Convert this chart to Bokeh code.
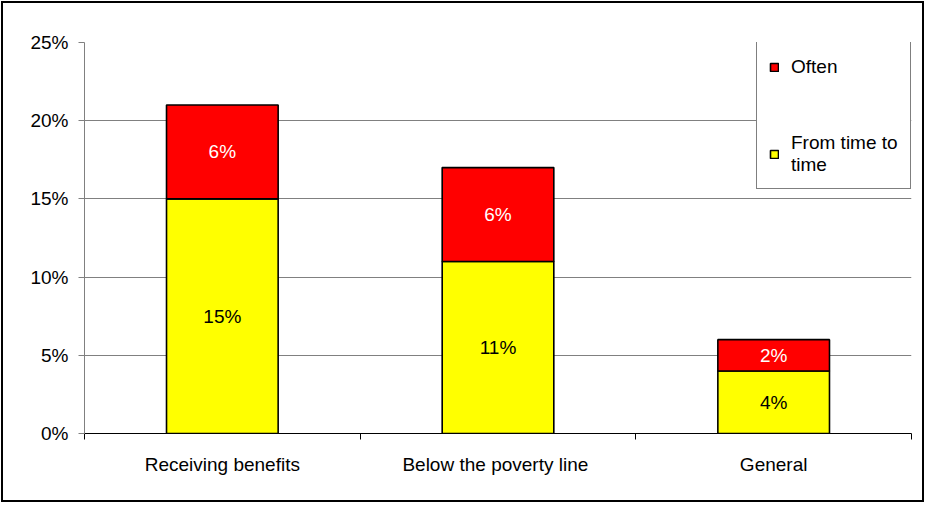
from bokeh.plotting import figure
from bokeh.models import (ColumnDataSource, FixedTicker, NumeralTickFormatter, Legend,
                          LegendItem, Range1d, LabelSet)
from bokeh.core.properties import value
from bokeh.embed import file_html
from bokeh.resources import INLINE

categories = ["Receiving benefits", "Below  the poverty line", "General"]
from_time_to_time = [0.15, 0.11, 0.04]
often = [0.06, 0.06, 0.02]
series_names = ["Often", "From time to\ntime"]
y_ticks = [0, 0.05, 0.10, 0.15, 0.20, 0.25]

FONT = "Liberation Sans"
FS = "19px"

xs = [i + 0.5 for i in range(len(categories))]
src = ColumnDataSource(dict(
    x=xs,
    time=from_time_to_time,
    often=often,
    time_mid=[t / 2 for t in from_time_to_time],
    often_mid=[t + o / 2 for t, o in zip(from_time_to_time, often)],
    time_lbl=[f"{round(t*100)}%" for t in from_time_to_time],
    often_lbl=[f"{round(o*100)}%" for o in often],
))

p = figure(width=923, height=501, output_backend="svg", toolbar_location=None,
           x_range=Range1d(0, len(categories)), y_range=Range1d(0, 0.25),
           min_border_left=81, min_border_right=15, min_border_top=39, min_border_bottom=71)
p.styles = {"border": "2px solid black", "margin": "1px"}
p.outline_line_color = None
p.background_fill_color = "white"

rs = p.vbar_stack(["time", "often"], x="x", width=0.405, source=src,
                  fill_color=["#FFFF00", "#FF0000"], line_color="black", line_width=1.6)

# labels
p.add_layout(LabelSet(x="x", y="time_mid", text="time_lbl", source=src, text_align="center",
                      text_baseline="middle", text_font=value(FONT), text_font_size=value(FS),
                      text_color="black"))
p.add_layout(LabelSet(x="x", y="often_mid", text="often_lbl", source=src, text_align="center",
                      text_baseline="middle", text_font=value(FONT), text_font_size=value(FS),
                      text_color="white"))

# axes
p.xaxis.ticker = FixedTicker(ticks=xs, minor_ticks=list(range(len(categories) + 1)))
p.xaxis.major_label_overrides = {x: c for x, c in zip(xs, categories)}
p.xaxis.major_tick_line_color = None
p.xaxis.major_tick_out = 6
p.xaxis.minor_tick_out = 6
p.xaxis.minor_tick_in = 0
p.xaxis.minor_tick_line_color = "black"
p.xaxis.axis_line_color = "black"
p.xaxis.major_label_standoff = 14
p.xaxis.major_label_text_font = FONT
p.xaxis.major_label_text_font_size = FS
p.xaxis.major_label_text_color = "black"

p.yaxis.ticker = FixedTicker(ticks=y_ticks, minor_ticks=[])
p.yaxis.formatter = NumeralTickFormatter(format="0%")
p.yaxis.axis_line_color = "#808080"
p.yaxis.major_tick_line_color = "#808080"
p.yaxis.major_tick_out = 6
p.yaxis.major_tick_in = 0
p.yaxis.major_label_standoff = 10
p.yaxis.major_label_text_font = FONT
p.yaxis.major_label_text_font_size = FS
p.yaxis.major_label_text_color = "black"

p.xgrid.grid_line_color = None
p.ygrid.grid_line_color = "#808080"
p.ygrid.grid_line_width = 1

legend = Legend(items=[LegendItem(label=series_names[0], renderers=[rs[1]]),
                       LegendItem(label=series_names[1], renderers=[rs[0]])],
                location=(672, 244), border_line_color="black", border_line_width=1,
                background_fill_color="white", background_fill_alpha=1,
                label_text_font=FONT, label_text_font_size=FS, label_text_color="black",
                glyph_width=10, glyph_height=10, label_standoff=12, label_width=100,
                padding=12, spacing=52, label_height=26, margin=0)
p.add_layout(legend, "center")

open("out.html", "w").write(file_html(p, INLINE))
